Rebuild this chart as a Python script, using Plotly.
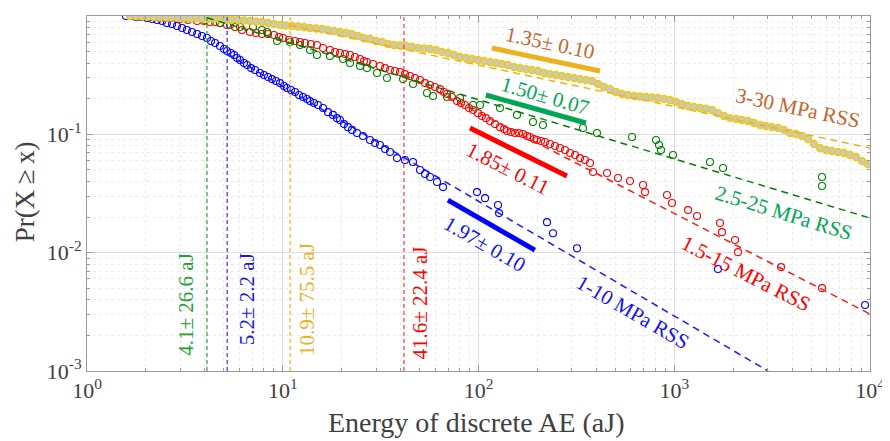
import plotly.graph_objects as go

# ---------------- data ----------------
blue_x = [1.58, 1.68, 1.78, 1.89, 2.03, 2.15, 2.28, 2.42, 2.56, 2.72,
          2.88, 3.06, 3.24, 3.44, 3.65, 3.87, 4.10, 4.30, 4.51, 4.78,
          5.01, 5.19, 5.44, 5.64, 5.84, 6.05, 6.34, 6.57, 6.89, 7.22,
          7.65, 8.02, 8.41, 8.81, 9.24, 9.68, 10.15, 10.51, 11.02, 11.55,
          12.11, 12.69, 13.30, 13.78, 14.44, 15.14, 16.06, 17.03, 18.06, 18.93,
          19.61, 20.56, 21.54, 22.58, 23.95, 25.70, 27.91, 29.60, 31.40, 33.30,
          35.31, 38.35, 42.13, 46.29, 50.25, 53.29, 56.54, 61.38, 65.88, 98.27,
          108.0, 125.8, 127.3, 223.9, 240.2, 318.6, 1673, 9430]
blue_y = [1.000, 1.000, 0.981, 0.981, 0.962, 0.943, 0.925, 0.907, 0.873, 0.856,
          0.823, 0.792, 0.761, 0.732, 0.705, 0.677, 0.652, 0.615, 0.591, 0.558,
          0.526, 0.506, 0.487, 0.468, 0.442, 0.425, 0.401, 0.385, 0.363, 0.350,
          0.330, 0.317, 0.305, 0.293, 0.282, 0.271, 0.256, 0.246, 0.237, 0.228,
          0.215, 0.207, 0.199, 0.191, 0.184, 0.177, 0.167, 0.154, 0.146, 0.137,
          0.132, 0.122, 0.115, 0.109, 0.1025, 0.0967, 0.0895, 0.0844, 0.0812, 0.0751,
          0.0709, 0.0630, 0.0606, 0.0583, 0.0499, 0.0462, 0.0436, 0.0395, 0.0358, 0.0325,
          0.0289, 0.0253, 0.0216, 0.0181, 0.0146, 0.0109, 0.00727, 0.00361]

red_x = [2.10, 2.31, 2.50, 2.72, 2.99, 3.28, 3.65, 3.96, 4.25, 4.51,
         4.78, 5.19, 5.70, 6.19, 6.80, 7.30, 7.83, 8.41, 9.02, 9.57,
         10.03, 10.77, 11.55, 12.25, 12.99, 13.94, 14.96, 16.06, 17.43, 18.49,
         19.61, 20.80, 22.06, 23.39, 24.81, 26.01, 26.94, 28.92, 31.40, 33.30,
         35.31, 37.44, 39.72, 42.13, 44.67, 47.38, 50.25, 53.29, 56.54, 59.95,
         63.58, 66.66, 69.05, 73.22, 77.65, 81.40, 85.33, 89.45, 93.75, 99.43,
         104.2, 109.2, 114.5, 121.4, 128.8, 135.0, 139.8, 146.6, 153.7, 161.0,
         168.8, 176.9, 183.3, 192.1, 199.0, 208.6, 218.6, 231.9, 245.9, 260.9,
         276.6, 293.4, 311.2, 330.0, 350.0, 371.3, 384.6, 453.5, 516.1, 594.3,
         692.5, 709.0, 918.3, 973.9, 1176, 1307, 1713, 1754, 2044, 2117,
         3512, 5686]
red_y = [0.981, 0.981, 0.962, 0.962, 0.943, 0.925, 0.907, 0.907, 0.890, 0.890,
         0.873, 0.839, 0.807, 0.761, 0.732, 0.718, 0.705, 0.705, 0.691, 0.665,
         0.652, 0.627, 0.615, 0.603, 0.591, 0.580, 0.569, 0.536, 0.516, 0.496,
         0.487, 0.477, 0.468, 0.450, 0.433, 0.417, 0.409, 0.393, 0.378, 0.363,
         0.350, 0.343, 0.336, 0.323, 0.311, 0.299, 0.288, 0.271, 0.261, 0.251,
         0.241, 0.228, 0.219, 0.207, 0.191, 0.184, 0.177, 0.167, 0.1605, 0.151,
         0.143, 0.137, 0.1296, 0.122, 0.115, 0.111, 0.1066, 0.1045, 0.1025, 0.1025,
         0.1006, 0.0967, 0.0949, 0.0913, 0.0895, 0.0878, 0.0861, 0.0828, 0.0796, 0.0766,
         0.0737, 0.0695, 0.0668, 0.0630, 0.0606, 0.0572, 0.0480, 0.0471, 0.0427, 0.0403,
         0.0373, 0.0325, 0.0307, 0.0263, 0.0229, 0.0204, 0.0178, 0.0149, 0.0128, 0.0101,
         0.00755, 0.00502]

green_x = [2.50, 3.17, 4.01, 4.78, 5.38, 6.05, 7.05, 7.83, 8.31, 9.35,
           10.89, 12.25, 13.78, 14.96, 17.43, 20.32, 22.06, 24.81, 26.94, 30.30,
           34.08, 41.15, 46.29, 54.56, 58.56, 69.05, 80.45, 93.75, 101.8, 128.8,
           157.3, 189.8, 213.5, 342.0, 403.0, 608.5, 807.0, 835.9, 855.8, 985.4,
           1523, 1775, 5686, 5686]
green_y = [0.981, 0.962, 0.925, 0.873, 0.839, 0.807, 0.807, 0.761, 0.732, 0.615,
           0.603, 0.569, 0.516, 0.468, 0.459, 0.433, 0.401, 0.378, 0.363, 0.330,
           0.299, 0.293, 0.266, 0.2234, 0.2108, 0.207, 0.2027, 0.177, 0.177, 0.167,
           0.146, 0.127, 0.120, 0.113, 0.1025, 0.0949, 0.0895, 0.0812, 0.0737, 0.0668,
           0.0583, 0.0519, 0.0436, 0.0366]

yellow_x = [1.658, 1.779, 1.910, 2.049, 2.199, 2.360, 2.533, 2.718, 2.917, 3.130,
            3.359, 3.605, 3.868, 4.151, 4.455, 4.780, 5.130, 5.505, 5.907, 6.339,
            6.803, 7.300, 7.834, 8.409, 9.023, 9.683, 10.39, 11.15, 11.97, 12.84,
            13.78, 14.79, 15.87, 17.03, 18.27, 19.61, 21.04, 22.58, 24.23, 26.01,
            27.91, 29.95, 32.14, 34.49, 37.01, 39.72, 42.62, 45.74, 49.08, 52.67,
            56.52, 60.66, 65.09, 69.85, 74.96, 80.44, 86.33, 92.65, 99.43, 106.7,
            114.5, 122.9, 131.9, 141.5, 151.9, 162.9, 174.9, 187.7, 201.4, 216.1,
            231.9, 248.9, 267.1, 286.6, 307.6, 330.0, 354.2, 380.1, 407.9, 437.7,
            469.8, 504.1, 541.0, 580.6, 623.0, 668.3, 717.5, 769.9, 826.0, 886.4,
            951.2, 1021, 1095, 1175, 1262, 1354, 1453, 1559, 1673, 1796,
            1927, 2068, 2219, 2381, 2555, 2742, 2943, 3158, 3388, 3636,
            3903, 4188, 4494, 4823, 5176, 5554, 5961, 6395, 6864, 7366,
            7904, 8481, 9101, 9766]
yellow_y = [1.000, 0.995, 0.990, 0.985, 0.980, 0.976, 0.972, 0.968, 0.965, 0.962,
            0.958, 0.955, 0.951, 0.947, 0.943, 0.938, 0.934, 0.929, 0.925, 0.917,
            0.907, 0.899, 0.890, 0.873, 0.856, 0.839, 0.831, 0.823, 0.815, 0.807,
            0.792, 0.784, 0.776, 0.761, 0.747, 0.732, 0.718, 0.705, 0.677, 0.652,
            0.639, 0.615, 0.603, 0.580, 0.569, 0.565, 0.558, 0.547, 0.536, 0.531,
            0.526, 0.516, 0.496, 0.487, 0.468, 0.450, 0.442, 0.433, 0.425, 0.417,
            0.409, 0.401, 0.393, 0.385, 0.371, 0.363, 0.356, 0.350, 0.343, 0.330,
            0.323, 0.317, 0.311, 0.305, 0.299, 0.293, 0.288, 0.282, 0.266, 0.251,
            0.241, 0.228, 0.219, 0.215, 0.2108, 0.209, 0.207, 0.205, 0.2027, 0.199,
            0.195, 0.1875, 0.180, 0.1734, 0.170, 0.167, 0.165, 0.1605, 0.151, 0.143,
            0.137, 0.1347, 0.132, 0.1296, 0.1246, 0.120, 0.1175, 0.115, 0.113, 0.109,
            0.1025, 0.1006, 0.0967, 0.0913, 0.0828, 0.0766, 0.0737, 0.0722, 0.0709, 0.0695,
            0.0668, 0.0643, 0.0594, 0.0561]

# power-law fits: order blue, red, green, yellow
fit_alpha = [1.97, 1.85, 1.50, 1.35]
fit_alpha_err = [0.10, 0.11, 0.07, 0.10]
fit_xmin = [5.2, 41.6, 4.1, 10.9]
fit_xmin_err = [2.2, 22.4, 26.6, 75.5]
fit_y_at_xmin = [0.479, 0.32, 0.968, 0.834]
series_names = ["1-10 MPa RSS", "1.5-15 MPa RSS", "2.5-25 MPa RSS", "3-30 MPa RSS"]

# slope indicator segments
seg_x = [[69.8, 194], [90.5, 283], [109, 354], [117, 418]]
seg_y = [[0.0278, 0.0105], [0.113, 0.0444], [0.215, 0.1246], [0.536, 0.343]]

x_tickvals = [1, 10, 100, 1000, 10000]
x_ticktext = ["10<sup>0</sup>", "10<sup>1</sup>", "10<sup>2</sup>", "10<sup>3</sup>", "10<sup>4</sup>"]
y_tickvals = [0.001, 0.01, 0.1, 1]
y_ticktext = ["10<sup>-3</sup>", "10<sup>-2</sup>", "10<sup>-1</sup>", "10<sup>0</sup>"]

# ---------------- styling ----------------
FONT = "Liberation Serif, Times New Roman, serif"
marker_col = ["#0000FF", "#FF0000", "#008000", "#F2CC00"]
fit_col = ["#1A1AFF", "#FF1A1A", "#008000", "#EDB120"]
vline_col = ["#3333FF", "#FF3333", "#22A033", "#EDB120"]
seg_col = ["#0000FF", "#FF0000", "#00A651", "#EDB120"]
txt_col = ["#1515F0", "#FF0000", "#00A651", "#C4652B"]
vtxt_col = ["#1515F0", "#FF0000", "#22A033", "#EDB120"]

fig = go.Figure()

for xs, ys, i in [(blue_x, blue_y, 0), (red_x, red_y, 1), (green_x, green_y, 2)]:
    fig.add_trace(go.Scatter(x=xs, y=ys, mode="markers",
                             marker=dict(symbol="circle-open", size=7,
                                         color=marker_col[i], line=dict(width=1.1)),
                             showlegend=False, hoverinfo="skip"))
fig.add_trace(go.Scatter(x=yellow_x, y=yellow_y, mode="markers",
                         marker=dict(symbol="circle", size=7, color="#C8C8C8",
                                     line=dict(width=1.4, color=marker_col[3])),
                         showlegend=False, hoverinfo="skip"))

for i in range(4):
    fig.add_trace(go.Scatter(x=[fit_xmin[i], fit_xmin[i]], y=[1e-3, 1], mode="lines",
                             line=dict(color=vline_col[i], width=1.2, dash="4px,3px"),
                             showlegend=False, hoverinfo="skip"))

for i in range(4):
    xa = fit_xmin[i]
    ya = fit_y_at_xmin[i]
    xb = 10000.0
    yb = ya * (xb / xa) ** (-(fit_alpha[i] - 1))
    if yb < 1e-3:
        xb = xa * (ya / 1e-3) ** (1 / (fit_alpha[i] - 1))
        yb = 1e-3
    fig.add_trace(go.Scatter(x=[xa, xb], y=[ya, yb], mode="lines",
                             line=dict(color=fit_col[i], width=1.5, dash="7px,5px"),
                             showlegend=False, hoverinfo="skip"))

for i in range(4):
    fig.add_trace(go.Scatter(x=seg_x[i], y=seg_y[i], mode="lines",
                             line=dict(color=seg_col[i], width=5),
                             showlegend=False, hoverinfo="skip"))

ann = []
slope_pos = [(2.031, -1.923, 30), (2.153, -1.293, 27), (2.340, -0.676, 16), (2.365, -0.228, 12)]
for i in range(4):
    lx, ly, ang = slope_pos[i]
    ann.append(dict(x=lx, y=ly, xref="x", yref="y", showarrow=False, textangle=ang,
                    text=f"{fit_alpha[i]:.2f}\u00b1 {fit_alpha_err[i]:.2f}",
                    font=dict(family=FONT, size=21, color=txt_col[i])))
name_pos = [(2.787, -2.498, 30), (3.369, -2.181, 27), (3.561, -1.661, 17), (3.630, -0.774, 12)]
for i in range(4):
    lx, ly, ang = name_pos[i]
    ann.append(dict(x=lx, y=ly, xref="x", yref="y", showarrow=False, textangle=ang,
                    text=series_names[i],
                    font=dict(family=FONT, size=21, color=txt_col[i])))
xmin_pos = [(0.815, -2.397), (1.701, -2.422), (0.506, -2.439), (1.121, -2.397)]
for i in range(4):
    lx, ly = xmin_pos[i]
    ann.append(dict(x=lx, y=ly, xref="x", yref="y", showarrow=False, textangle=-90,
                    text=f"{fit_xmin[i]:.1f}\u00b1 {fit_xmin_err[i]:.1f} aJ",
                    font=dict(family=FONT, size=21, color=vtxt_col[i])))
ann.append(dict(x=0.4975, y=-0.144, xref="paper", yref="paper", showarrow=False,
                xanchor="center", yanchor="middle",
                text="Energy of discrete AE (aJ)",
                font=dict(family=FONT, size=28, color="#404040")))
ann.append(dict(x=-0.079, y=0.504, xref="paper", yref="paper", showarrow=False,
                xanchor="center", yanchor="middle", textangle=-90,
                text="Pr(X\u2009\u2265\u2009x)",
                font=dict(family=FONT, size=27, color="#404040")))

x_minor = [m * 10 ** d for d in range(0, 4) for m in range(2, 10)]
y_minor = [m * 10 ** d for d in range(-3, 0) for m in range(2, 10)]

axis_common = dict(type="log", showline=True, linecolor="#9a9a9a", linewidth=1,
                   mirror="allticks", ticks="inside", ticklen=6, tickcolor="#9a9a9a",
                   showgrid=True, gridcolor="#dedede", gridwidth=1, zeroline=False,
                   tickmode="array", automargin=False,
                   tickfont=dict(family=FONT, size=22, color="#404040"))

# the page body adds an 8 px offset at top-left, so the figure is 8 px smaller
fig.update_layout(
    width=882, height=433,
    margin=dict(l=79, r=20, t=8, b=70, autoexpand=False),
    paper_bgcolor="white", plot_bgcolor="white",
    showlegend=False,
    annotations=ann,
    xaxis=dict(range=[0, 4], tickvals=x_tickvals, ticktext=x_ticktext,
               minor=dict(tickmode="array", tickvals=x_minor, ticks="inside", ticklen=3,
                          tickcolor="#9a9a9a", showgrid=True, gridcolor="#ececec",
                          griddash="dot"),
               **axis_common),
    yaxis=dict(range=[-3, 0], tickvals=y_tickvals, ticktext=y_ticktext,
               minor=dict(tickmode="array", tickvals=y_minor, ticks="inside", ticklen=3,
                          tickcolor="#9a9a9a", showgrid=True, gridcolor="#ececec",
                          griddash="dot"),
               **axis_common),
)

fig.write_html("out.html")
